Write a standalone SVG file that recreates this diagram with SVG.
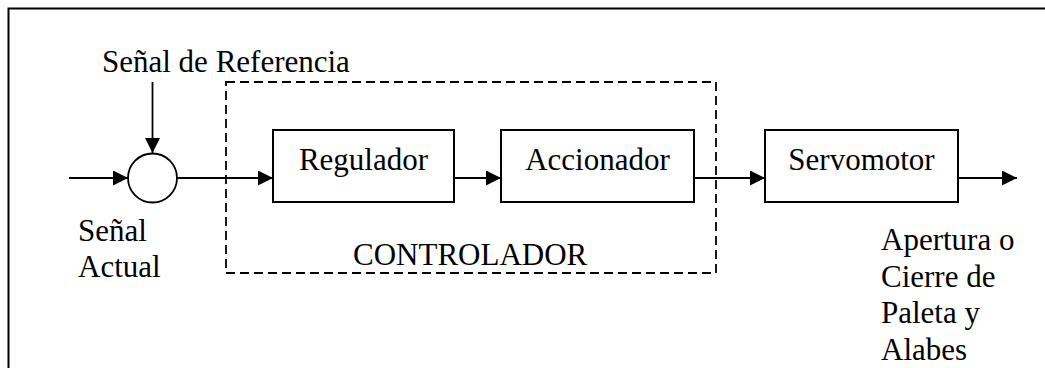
<svg xmlns="http://www.w3.org/2000/svg" width="1045" height="368" viewBox="0 0 1045 368">
<style>
.box{fill:#fff;stroke:#000;stroke-width:2}
.ln{fill:none;stroke:#000;stroke-width:1.8}
</style>
<defs>
<marker id="ah" markerWidth="15" markerHeight="15" viewBox="0 0 15 15" refX="15" refY="7.5" orient="auto" markerUnits="userSpaceOnUse">
<path d="M0,0 L15,7.5 L0,15 Z" fill="#000"/>
</marker>
</defs>
<rect width="1045" height="368" fill="#fff"/>
<path d="M8.5,368 V8.5 H1045" fill="none" stroke="#000" stroke-width="2"/>
<g font-family="Liberation Serif, Tinos, DejaVu Serif, serif" font-size="31" fill="#000">
<g id="controlador">
<rect x="226" y="82" width="490" height="191" fill="none" stroke="#000" stroke-width="1.8" stroke-dasharray="9 5"/>
<text x="353" y="265">CONTROLADOR</text>
</g>
<g id="connectors">
<line class="ln" x1="69" y1="178" x2="128" y2="178" marker-end="url(#ah)"/>
<line class="ln" x1="152.5" y1="82" x2="152.5" y2="153" marker-end="url(#ah)"/>
<line class="ln" x1="177" y1="178" x2="273" y2="178" marker-end="url(#ah)"/>
<line class="ln" x1="454" y1="178" x2="501" y2="178" marker-end="url(#ah)"/>
<line class="ln" x1="694" y1="178" x2="765" y2="178" marker-end="url(#ah)"/>
<line class="ln" x1="958" y1="178" x2="1017" y2="178" marker-end="url(#ah)"/>
</g>
<g id="sumador">
<circle cx="152.5" cy="178" r="24.5" fill="#fff" stroke="#000" stroke-width="1.8"/>
</g>
<g id="referencia">
<text x="102" y="72">Señal de Referencia</text>
</g>
<g id="actual">
<text x="78" y="241">Señal</text>
<text x="78" y="277">Actual</text>
</g>
<g id="regulador">
<rect class="box" x="273" y="130" width="181" height="72"/>
<text x="363.5" y="170" text-anchor="middle">Regulador</text>
</g>
<g id="accionador">
<rect class="box" x="501" y="130" width="193" height="72"/>
<text x="597.5" y="170" text-anchor="middle">Accionador</text>
</g>
<g id="servomotor">
<rect class="box" x="765" y="130" width="193" height="72"/>
<text x="861.5" y="170" text-anchor="middle">Servomotor</text>
</g>
<g id="salida">
<text x="881" y="250">Apertura o</text>
<text x="881" y="287">Cierre de</text>
<text x="881" y="323">Paleta y</text>
<text x="881" y="360">Alabes</text>
</g>
</g>
</svg>
